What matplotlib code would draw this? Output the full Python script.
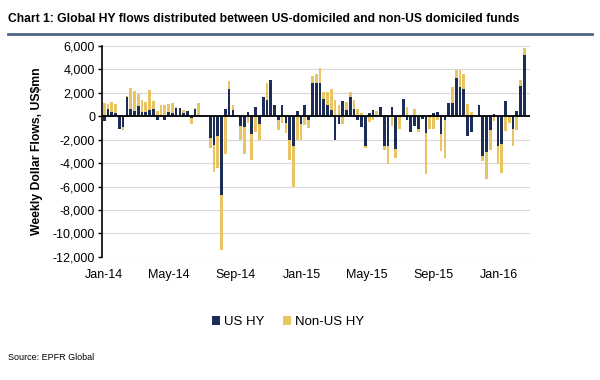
import datetime

import matplotlib

matplotlib.use("Agg")
import matplotlib.dates as mdates
import matplotlib.pyplot as plt
import numpy as np
from matplotlib.ticker import FuncFormatter, MultipleLocator


TITLE = "Chart 1: Global HY flows distributed between US-domiciled and non-US domiciled funds"
SOURCE = "Source: EPFR Global"
Y_LABEL = "Weekly Dollar Flows, US$mn"
SERIES_NAMES = ["US HY", "Non-US HY"]
START_WEEK = datetime.date(2014, 1, 1)

# weekly flows, US$mn (Jan-14 .. mid Feb-16)
us_hy = [
    -400, 600, 380, 250, -1050, -950, 1650, 600, 450, 850,
    400, 350, 550, 600, -350, 150, -350, 350, 300, 700,
    700, 300, 450, -150, 650, 150, 50, 0, -1850, -2450,
    -1700, -6700, 650, 2300, 550, 60, -850, -900, 350, -1550,
    800, -650, 1650, 1400, 3100, 1000, -350, 950, -550, -2000,
    -2500, 450, -700, 1000, -350, 2850, 2850, 2850, 1450, 1000,
    500, -2000, -650, 1300, 550, 1650, 650, -350, -900, -2550,
    250, 550, 100, 800, -2500, -2550, 750, -2800, -100, 1500,
    -350, -1350, -850, -1050, -200, -1450, 100, 250, 350, -1550,
    -300, 1150, 1150, 3250, 2500, 2300, -1650, -1300, 0, 1000,
    -3350, -3050, -1150, 170, -2500, -2400, 1300, -50, -1050, 450,
    2550, 5250,
]
non_us_hy = [
    1150, 450, 880, 800, 150, -250, 100, 1800, 1700, 1050,
    1000, 900, 1700, 700, 450, 800, 950, 700, 850, 50,
    0, 200, 0, -550, 50, 950, 0, 0, -850, -2300,
    -2750, -4700, -3200, 750, 400, 0, -1150, -2300, -550, -2150,
    -1350, -1350, 0, 1450, 0, 0, -800, -550, -900, -1750,
    -3500, -2000, -1300, -750, -650, 600, 750, 1300, 650, 1100,
    1850, 1350, 950, -700, 650, 450, 750, 650, 250, -150,
    -500, -300, 350, 0, -400, -1500, -850, -750, -950, 0,
    800, 0, 600, -300, 100, -3500, -1050, -1050, -350, -1450,
    -3300, 0, 1350, 700, 1450, 1350, 1050, 350, 0, 0,
    -450, -2300, -1750, -400, -1550, -2450, -1250, -550, -1500, -1150,
    550, 550,
]

NAVY = "#1C2D57"
GOLD = "#E9C463"


def apply_style():
    plt.rcParams.update(
        {
            "figure.facecolor": "white",
            "axes.facecolor": "white",
            "font.family": ["Liberation Sans", "DejaVu Sans"],
            "font.size": 9,
        }
    )


def stacked_bottoms(base, top):
    base = np.asarray(base, dtype=float)
    top = np.asarray(top, dtype=float)
    pos = np.where(base > 0, base, 0.0)
    neg = np.where(base < 0, base, 0.0)
    return np.where(top >= 0, pos, neg)


def plot_flows():
    weeks = [START_WEEK + datetime.timedelta(days=7 * i) for i in range(len(us_hy))]
    x = mdates.date2num(weeks)

    fig = plt.figure(figsize=(6.0, 3.8), dpi=100)
    ax = fig.add_axes([0.170, 0.324, 0.713, 0.555])

    ax.bar(x, us_hy, width=5.0, color=NAVY, label=SERIES_NAMES[0], zorder=3)
    ax.bar(x, non_us_hy, width=5.0, bottom=stacked_bottoms(us_hy, non_us_hy),
           color=GOLD, label=SERIES_NAMES[1], zorder=3)

    ax.set_ylim(-12000, 6000)
    ax.set_xlim(x[0] - 4, x[-1] + 10)
    ax.yaxis.set_major_locator(MultipleLocator(2000))
    ax.yaxis.set_major_formatter(FuncFormatter(lambda v, p: "{:,.0f}".format(v)))
    ax.grid(axis="y", color="#d8d8d8", linewidth=0.8, zorder=0)
    ax.axhline(0, color="black", linewidth=1.3, zorder=4)

    ax.xaxis.set_major_locator(mdates.MonthLocator(bymonth=[1, 5, 9]))
    ax.xaxis.set_major_formatter(mdates.DateFormatter("%b-%y"))
    ax.tick_params(axis="x", length=0, pad=9, labelsize=9)
    ax.tick_params(axis="y", length=3, width=1, pad=2, labelsize=9)

    for side in ["top", "right", "bottom"]:
        ax.spines[side].set_visible(False)
    ax.spines["left"].set_color("black")
    ax.spines["left"].set_linewidth(1.2)

    ax.set_ylabel(Y_LABEL, fontsize=8.8, fontweight="bold", labelpad=7)

    fig.text(0.013, 0.95, TITLE, fontsize=8.7, fontweight="bold", va="center")
    fig.add_artist(plt.Line2D([0.013, 0.987], [0.91, 0.91], color="#4E6587",
                              linewidth=2.0, transform=fig.transFigure))

    fig.legend(loc="center", bbox_to_anchor=(0.48, 0.152), ncol=2, frameon=False,
               handlelength=0.6, handleheight=0.6, handletextpad=0.3,
               columnspacing=1.4, fontsize=9.5)

    fig.text(0.013, 0.06, SOURCE, fontsize=6.5, va="center")

    fig.savefig("out.png", dpi=100)
    plt.close(fig)


def main():
    apply_style()
    plot_flows()


if __name__ == "__main__":
    main()
